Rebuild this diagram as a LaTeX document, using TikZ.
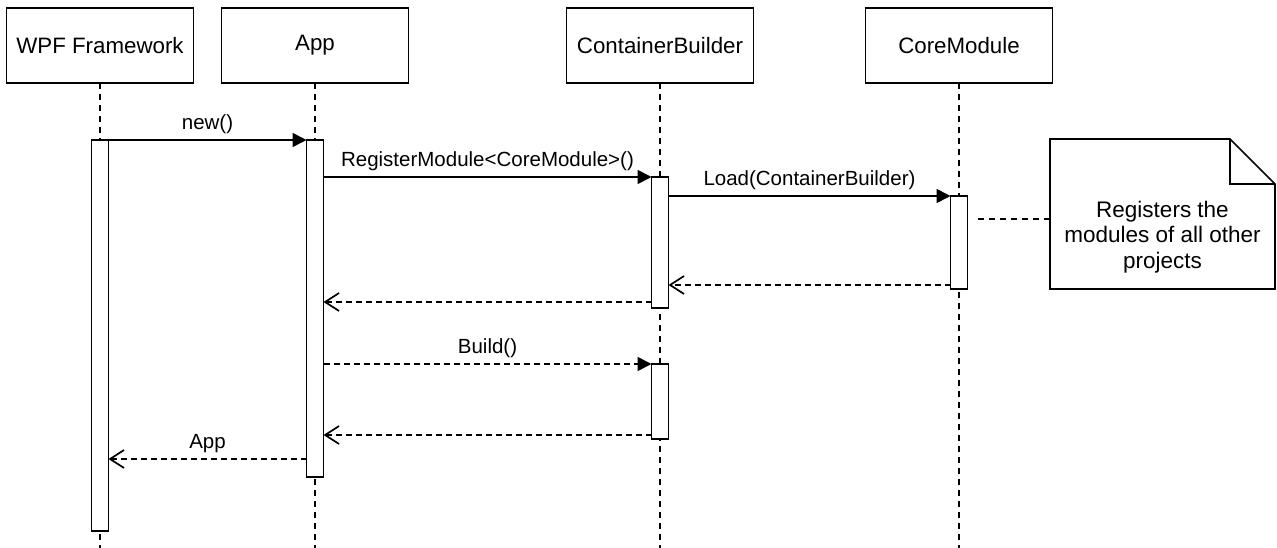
\documentclass[tikz,border=0pt]{standalone}
\usepackage{fontspec}
\setmainfont{Liberation Sans}
\usetikzlibrary{arrows.meta,calc,positioning}

\begin{document}
\begin{tikzpicture}[x=1pt, y=1pt, line width=1.7pt,
    actor/.style={draw, rectangle, minimum width=187, minimum height=75, outer sep=0, font=\fontsize{22.3}{26}\selectfont},
    bar/.style={draw, fill=white, rectangle, minimum width=17, inner sep=0, outer sep=0},
    lifeline/.style={dash pattern=on 6 off 5},
    call/.style={-{Triangle[length=14, width=14]}},
    reply/.style={dash pattern=on 6 off 4, -{Straight Barb[length=14, width=18]}},
    msg/.style={above, inner sep=5, font=\fontsize{20.5}{24}\selectfont},
    notetext/.style={align=center, inner sep=0, font=\fontsize{22.5}{25.5}\selectfont}]

    \useasboundingbox (0,0) rectangle (1277,-548);
    \coordinate (end) at (0,-548);

    % participants
    \node[actor]                     (wpf) at (100,-45.5) {WPF Framework};
    \node[actor, right=28 of wpf]    (app)                {App};
    \node[actor, right=158 of app]   (cb)                 {ContainerBuilder};
    \node[actor, right=112 of cb]    (cm)                 {CoreModule};

    \foreach \n in {wpf,app,cb,cm}
        \draw[lifeline] (\n.south) -- (\n.south |- end);

    % activations
    \node[bar, minimum height=391, below=57 of wpf]     (wpfbar)  {};
    \node[bar, minimum height=337, below=57 of app]     (appbar)  {};
    \node[bar, minimum height=131, below=94 of cb]      (cbload)  {};
    \node[bar, minimum height=93,  below=113 of cm]     (cmbar)   {};
    \node[bar, minimum height=75,  below=56 of cbload]  (cbbuild) {};

    % calls
    \path (wpfbar.north east)       edge [call] node[msg] {new()}                        (appbar.north west)
          (appbar.east |- cbload.north) edge [call] node[msg] {RegisterModule<CoreModule>()} (cbload.north west)
          (cbload.east |- cmbar.north)  edge [call] node[msg] {Load(ContainerBuilder)}       (cmbar.north west)
          (appbar.east |- cbbuild.north) edge [call, dash pattern=on 6 off 4] node[msg] {Build()} (cbbuild.north west);

    % replies
    \coordinate (cmret)    at ([yshift=4]cmbar.south west);
    \coordinate (cbret)    at ([yshift=6]cbload.south west);
    \coordinate (buildret) at ([yshift=4]cbbuild.south west);
    \coordinate (appret)   at ([yshift=18]appbar.south west);

    \path (cmret)    edge [reply]                (cmret -| cbload.east)
          (cbret)    edge [reply]                (cbret -| appbar.east)
          (buildret) edge [reply]                (buildret -| appbar.east)
          (appret)   edge [reply] node[msg] {App} (appret -| wpfbar.east);

    % note
    \node[minimum width=225, minimum height=150, outer sep=0] (note) at (1162.5,-214) {};
    \draw[fill=white] (note.south west) -- (note.north west) -- ([xshift=-45]note.north east)
        -- ([yshift=-45]note.north east) -- (note.south east) -- cycle;
    \draw ([xshift=-45]note.north east) |- ([yshift=-45]note.north east);
    \node[notetext] (notelabel) at ([yshift=-23]note.center) {Registers the\\modules of all other\\projects};

    \coordinate (notepin) at ([yshift=-5]note.west);
    \draw[lifeline, shorten >=10] (notepin) -- (notepin -| cmbar.east);
\end{tikzpicture}
\end{document}
